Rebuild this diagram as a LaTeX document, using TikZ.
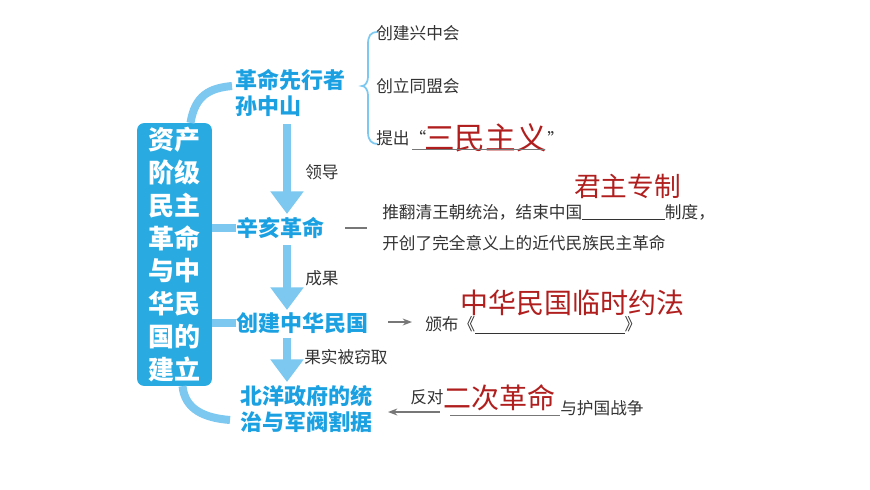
\documentclass[tikz,border=0pt]{standalone}
\usepackage{fontspec}
\setmainfont{Noto Sans CJK SC}
\usetikzlibrary{arrows.meta}
\definecolor{boxblue}{HTML}{29ABE2}
\definecolor{lineblue}{HTML}{7DC8F0}
\definecolor{txtblue}{HTML}{1BA1E2}
\definecolor{ansred}{HTML}{B01E1E}
\definecolor{gry}{HTML}{777777}
\tikzset{
 head/.style={text=txtblue,font=\fontsize{16.5}{20}\selectfont\bfseries,align=left,inner sep=0},
 note/.style={text=black!80,font=\fontsize{12.5}{15}\selectfont,anchor=west,inner sep=0},
 ans/.style={text=ansred,anchor=west,inner sep=0},
 flow/.style={lineblue,line width=6pt,-{Triangle[length=17pt,width=24pt]}},
 conn/.style={lineblue,line width=6pt},
 garrow/.style={gry,line width=1pt,-{Stealth[length=7pt]}},
}
\begin{document}
\begin{tikzpicture}[x=0.75pt,y=-0.75pt]
\useasboundingbox (0,0) rectangle (870,489);
\node[fill=boxblue,rounded corners=5pt,minimum width=56pt,minimum height=197pt,inner sep=0,
 text=white,font=\fontsize{19.5}{24.6}\selectfont\bfseries,align=center] (box) at (174.5,254.5)
 {资产\\阶级\\民主\\革命\\与中\\华民\\国的\\建立};
\node[head,anchor=west] (sun) at (235,93) {革命先行者\\孙中山};
\node[head,anchor=west] (xh) at (236,228) {辛亥革命};
\node[head,anchor=west] (cj) at (236,323) {创建中华民国};
\node[head,anchor=west] (by) at (240,409) {北洋政府的统\\治与军阀割据};
\draw[conn] ([xshift=12pt]box.north) .. controls (195,95) and (210,88) .. (232,86);
\draw[conn] ([xshift=6pt]box.south) .. controls (185,410) and (205,418) .. (230,420);
\draw[conn] (box.east|-xh) -- (xh.west);
\draw[conn] (box.east|-cj) -- (cj.west);
\draw[flow] (287,124) -- (287,214);
\draw[flow] (287,245) -- (287,310);
\draw[flow] (287,338) -- (287,382);
\node[note] (l1) at (305,172) {领导};
\node[note] (l2) at (305,278) {成果};
\node[note] (l3) at (304,357) {果实被窃取};
\draw[lineblue,line width=1.3pt] (378,32) .. controls (370,32) and (368,36) .. (368,45) -- (368,76) .. controls (368,84) and (364,86) .. (362,86) .. controls (364,86) and (368,88) .. (368,96) -- (368,132) .. controls (368,141) and (372,144) .. (378,144);
\node[note] (a1) at (376,33) {创建兴中会};
\node[note] (a2) at (376,86) {创立同盟会};
\node[note] (a3) at (376,138) {提出“};
\node[ans,font=\fontsize{23}{26}\selectfont] (smzy) at ([xshift=-2pt]a3.east) {三民主义};
\node[note] at (smzy.east) {”};
\draw[gry,line width=0.6pt] (412,149) -- (545,149);
\coordinate (x1) at (345,228);
\coordinate (x2) at (367,228);
\draw[gry,line width=0.8pt] (x1) -- (x2);
\node[note] (b1) at (382,212) {推翻清王朝统治，结束中国\rule[-1pt]{62pt}{0.5pt}制度，};
\node[note] (b2) at (382,243) {开创了完全意义上的近代民族民主革命};
\node[ans,font=\fontsize{20}{24}\selectfont] (jz) at (574,186) {君主专制};
\coordinate (c1) at (388,322);
\draw[garrow] (c1) -- (412,322);
\node[note] (c2) at (425,325) {颁布《\rule[-2pt]{112pt}{0.5pt}》};
\node[ans,font=\fontsize{21}{24}\selectfont] (lsyf) at (460,303) {中华民国临时约法};
\coordinate (d1) at (440,412);
\draw[garrow] (d1) -- (388,412);
\node[note] (d2) at (410,397) {反对};
\node[ans,font=\fontsize{21}{24}\selectfont] (ecgm) at (443,398) {二次革命};
\draw[gry,line width=0.6pt] (450,415) -- (560,415);
\node[note] (d3) at (560,408) {与护国战争};
\end{tikzpicture}
\end{document}
